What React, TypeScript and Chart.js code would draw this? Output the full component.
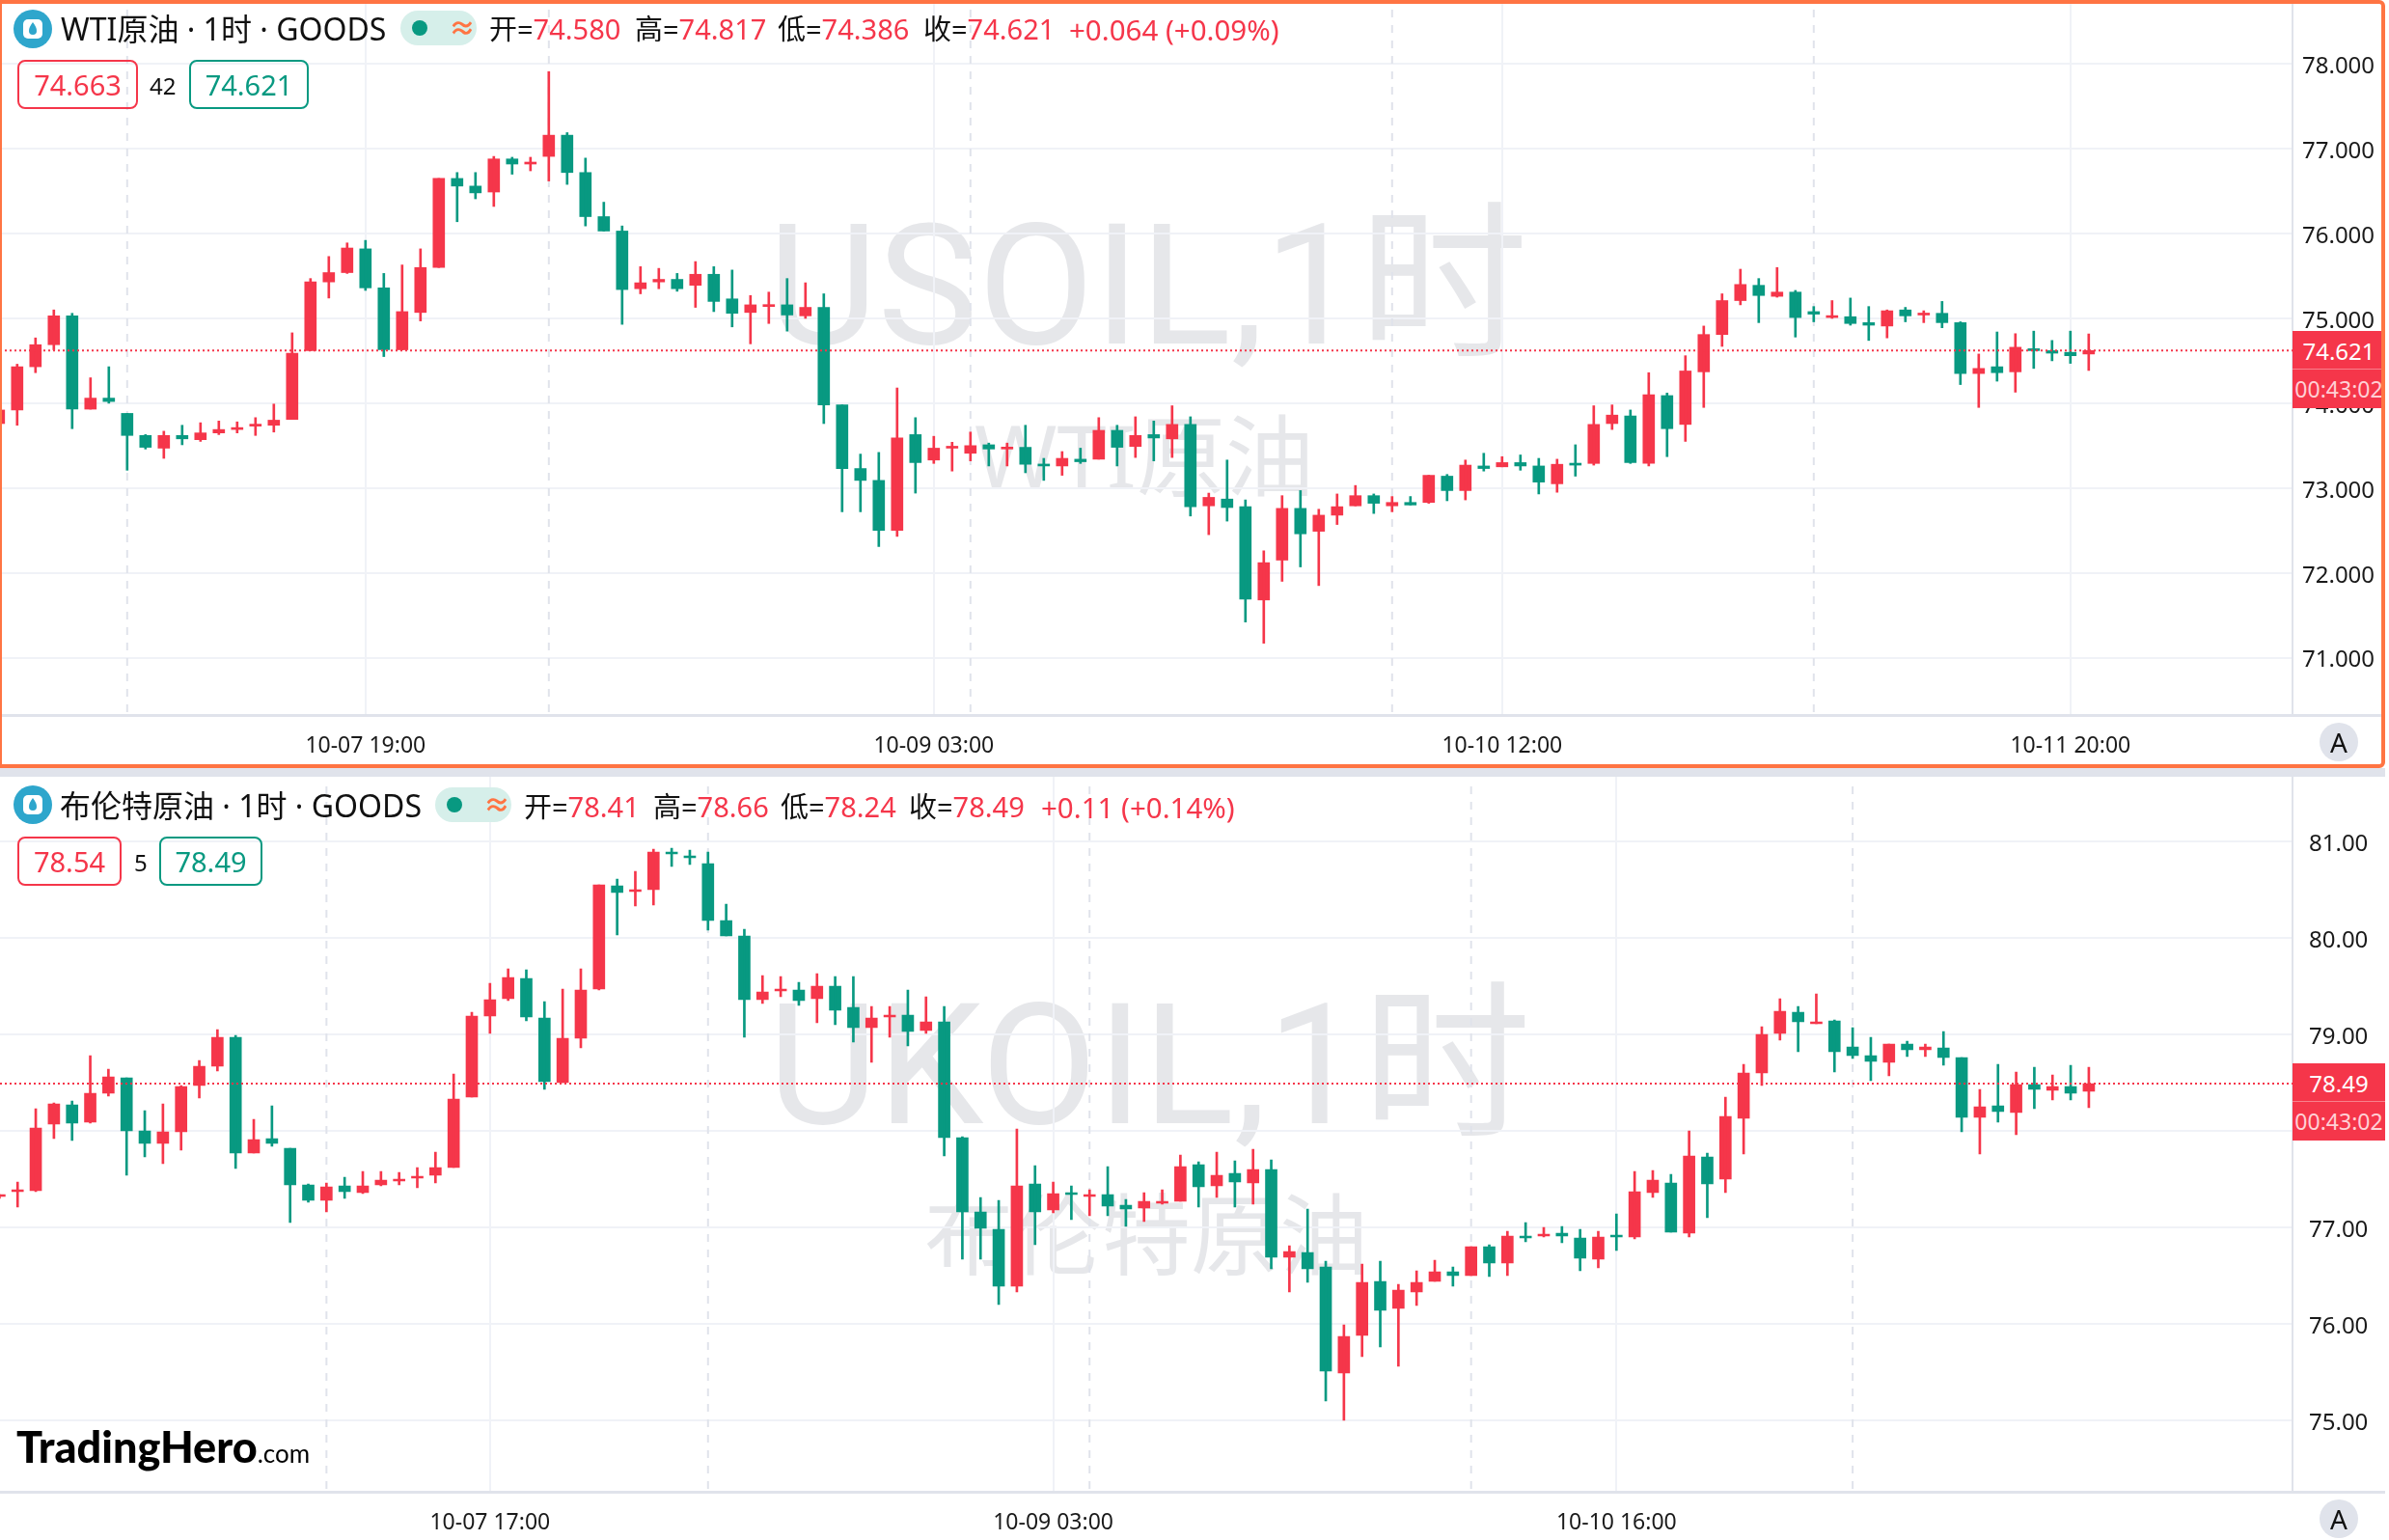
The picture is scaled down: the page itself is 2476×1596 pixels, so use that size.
import React, { useEffect, useRef } from 'react';
import { Chart, registerables } from 'chart.js';

Chart.register(...registerables);

const RED = '#F5364A';
const GREEN = '#089981';
const FONT = '"Noto Sans", "Noto Sans CJK SC", sans-serif';

// WTI, 1h candles
const wtiOpen = [73.76,73.92,74.43,74.69,75.03,73.93,74.06,73.88,73.62,73.47,73.62,73.57,73.65,73.69,73.73,73.74,73.81,74.62,75.43,75.54,75.82,75.36,74.63,75.07,75.60,76.65,76.56,76.49,76.88,76.82,76.91,77.16,76.72,76.20,76.03,75.35,75.43,75.46,75.39,75.52,75.23,75.07,75.14,75.16,75.03,75.13,73.98,73.23,73.09,72.50,73.63,73.33,73.47,73.41,73.51,73.46,73.48,73.28,73.26,73.34,73.34,73.68,73.49,73.63,73.58,73.75,72.79,72.87,72.78,71.68,72.15,72.76,72.49,72.68,72.79,72.91,72.79,72.83,72.83,73.14,72.97,73.26,73.25,73.30,73.26,73.05,73.29,73.29,73.76,73.85,73.29,74.09,73.75,74.37,74.81,75.21,75.39,75.26,75.31,75.08,75.01,75.02,74.95,74.91,75.10,75.04,75.06,74.95,74.35,74.43,74.37,74.64,74.62,74.60,74.58];
const wtiHigh = [73.92,74.46,74.77,75.10,75.06,74.30,74.43,73.88,73.63,73.67,73.74,73.77,73.79,73.78,73.83,73.99,74.83,75.47,75.73,75.89,75.92,75.53,75.63,75.82,76.65,76.72,76.72,76.91,76.90,76.90,77.91,77.19,76.89,76.37,76.09,75.61,75.59,75.53,75.67,75.61,75.57,75.27,75.31,75.47,75.42,75.29,73.98,73.40,73.42,74.18,73.83,73.61,73.54,73.66,73.53,73.53,73.74,73.35,73.43,73.47,73.83,73.74,73.84,73.79,73.97,73.84,72.94,73.33,72.86,72.26,72.91,72.97,72.75,72.93,73.03,72.93,72.90,72.90,73.15,73.16,73.33,73.41,73.37,73.39,73.35,73.34,73.51,73.97,73.98,73.92,74.36,74.12,74.56,74.91,75.29,75.58,75.47,75.60,75.33,75.14,75.21,75.24,75.14,75.10,75.13,75.09,75.20,74.96,74.58,74.84,74.82,74.85,74.74,74.85,74.817];
const wtiLow = [73.72,73.74,74.36,74.63,73.70,73.93,74.00,73.21,73.46,73.35,73.51,73.55,73.63,73.65,73.62,73.66,73.81,74.62,75.24,75.53,75.33,74.55,74.63,74.97,75.60,76.14,76.41,76.32,76.70,76.74,76.62,76.58,76.09,76.03,74.93,75.29,75.35,75.32,75.13,75.08,74.90,74.70,74.94,74.85,75.00,73.76,72.72,72.72,72.31,72.43,72.94,73.29,73.20,73.32,73.26,73.26,73.18,73.09,73.15,73.29,73.34,73.26,73.36,73.32,73.36,72.67,72.45,72.61,71.42,71.17,71.90,72.07,71.85,72.57,72.79,72.70,72.72,72.80,72.82,72.85,72.86,73.20,73.25,73.21,72.93,72.95,73.14,73.27,73.69,73.29,73.26,73.37,73.55,73.95,74.67,75.16,74.95,75.25,74.78,74.96,75.00,74.92,74.74,74.77,74.96,74.95,74.89,74.22,73.95,74.26,74.13,74.41,74.50,74.47,74.386];
const wtiClose = [73.92,74.43,74.69,75.03,73.93,74.06,74.02,73.62,73.48,73.62,73.58,73.65,73.69,73.70,73.74,73.80,74.59,75.43,75.54,75.83,75.36,74.63,75.08,75.60,76.65,76.56,76.48,76.88,76.82,76.83,77.16,76.72,76.20,76.03,75.34,75.42,75.46,75.35,75.52,75.20,75.06,75.16,75.16,75.04,75.13,73.98,73.23,73.09,72.50,73.59,73.30,73.47,73.48,73.50,73.46,73.48,73.28,73.26,73.35,73.31,73.68,73.48,73.62,73.59,73.75,72.78,72.89,72.77,71.69,72.12,72.76,72.46,72.68,72.78,72.91,72.82,72.83,72.80,73.15,72.97,73.27,73.23,73.30,73.26,73.07,73.28,73.27,73.75,73.86,73.30,74.10,73.70,74.38,74.81,75.21,75.40,75.27,75.31,75.01,75.05,75.03,74.94,74.92,75.09,75.03,75.06,74.95,74.35,74.41,74.36,74.66,74.62,74.59,74.56,74.621];
const wtiPriceTicks = [71, 72, 73, 74, 75, 76, 77, 78];
const wtiTimeIdx = [20, 51, 82, 113];
const wtiTimeLabels = ['10-07 19:00', '10-09 03:00', '10-10 12:00', '10-11 20:00'];
const wtiSessionIdx = [7, 30, 53, 76, 99];

// Brent, 1h candles
const brentOpen = [77.32,77.37,77.38,78.07,78.27,78.09,78.39,78.55,78.00,77.87,77.99,78.47,78.67,78.97,77.77,77.92,77.82,77.44,77.28,77.43,77.36,77.44,77.48,77.51,77.54,77.62,78.35,79.19,79.37,79.58,79.17,78.50,78.96,79.47,80.54,80.48,80.50,80.89,80.85,80.77,80.18,80.02,79.36,79.45,79.46,79.37,79.50,79.28,79.07,79.18,79.20,79.04,79.13,77.93,77.16,76.98,76.39,77.45,77.18,77.35,77.32,77.34,77.23,77.20,77.25,77.27,77.65,77.43,77.56,77.46,77.60,76.69,76.74,76.59,75.49,75.88,76.44,76.16,76.33,76.44,76.54,76.50,76.80,76.63,76.91,76.91,76.94,76.89,76.67,76.91,76.90,77.36,77.46,76.94,77.73,77.50,78.13,78.60,79.01,79.23,79.11,79.14,78.87,78.78,78.71,78.90,78.84,78.86,78.76,78.14,78.26,78.19,78.48,78.42,78.46,78.41];
const brentHigh = [77.34,77.47,78.23,78.29,78.31,78.78,78.64,78.55,78.21,78.28,78.47,78.73,79.05,78.99,78.12,78.26,77.82,77.45,77.46,77.52,77.58,77.58,77.57,77.62,77.78,78.59,79.23,79.53,79.68,79.67,79.34,79.47,79.68,80.55,80.61,80.69,80.92,80.93,80.91,80.89,80.35,80.09,79.61,79.60,79.54,79.63,79.60,79.60,79.29,79.29,79.46,79.39,79.29,77.94,77.31,77.28,78.02,77.64,77.47,77.43,77.39,77.63,77.29,77.36,77.39,77.75,77.68,77.78,77.69,77.81,77.70,76.81,77.19,76.65,75.99,76.62,76.65,76.41,76.55,76.66,76.59,76.80,76.82,76.96,77.05,77.00,77.01,76.98,76.96,77.14,77.58,77.59,77.55,78.00,77.77,78.35,78.69,79.08,79.37,79.29,79.42,79.15,79.07,78.97,78.90,78.93,78.90,79.03,78.76,78.43,78.69,78.61,78.66,78.58,78.68,78.66];
const brentLow = [77.30,77.21,77.37,77.92,77.90,78.08,78.36,77.54,77.73,77.66,77.80,78.34,78.62,77.61,77.77,77.84,77.05,77.26,77.16,77.30,77.35,77.43,77.44,77.41,77.46,77.62,78.35,79.01,79.35,79.14,78.43,78.50,78.86,79.46,80.03,80.33,80.34,80.74,80.76,80.08,80.02,78.97,79.32,79.39,79.30,79.12,79.10,78.92,78.71,78.97,78.88,79.01,77.74,76.67,76.67,76.20,76.33,76.82,77.15,77.08,77.12,77.12,77.01,77.06,77.24,77.27,77.21,77.31,77.21,77.24,76.57,76.33,76.43,75.20,75.00,75.66,75.76,75.56,76.19,76.44,76.39,76.50,76.49,76.50,76.85,76.90,76.84,76.55,76.58,76.76,76.88,77.31,76.95,76.90,77.10,77.36,77.76,78.47,78.94,78.82,79.11,78.61,78.75,78.52,78.57,78.77,78.77,78.68,77.99,77.76,78.09,77.96,78.23,78.32,78.32,78.24];
const brentClose = [77.34,77.38,78.03,78.28,78.08,78.39,78.56,78.00,77.87,77.99,78.46,78.67,78.97,77.77,77.91,77.87,77.44,77.28,77.42,77.37,77.43,77.49,77.50,77.53,77.62,78.33,79.19,79.36,79.59,79.18,78.51,78.96,79.46,80.55,80.47,80.49,80.89,80.87,80.83,80.18,80.02,79.36,79.44,79.46,79.35,79.50,79.25,79.07,79.17,79.20,79.03,79.13,77.93,77.16,76.99,76.39,77.43,77.16,77.35,77.34,77.34,77.22,77.19,77.27,77.27,77.63,77.42,77.54,77.47,77.60,76.69,76.75,76.57,75.51,75.87,76.43,76.14,76.35,76.43,76.54,76.50,76.80,76.63,76.91,76.89,76.93,76.91,76.68,76.90,76.90,77.37,77.49,76.95,77.74,77.45,78.15,78.60,79.00,79.24,79.13,79.13,78.82,78.78,78.72,78.90,78.84,78.87,78.76,78.14,78.25,78.20,78.48,78.43,78.46,78.39,78.49];
const brentPriceTicks = [75, 76, 77, 78, 79, 80, 81];
const brentTimeIdx = [27, 58, 89];
const brentTimeLabels = ['10-07 17:00', '10-09 03:00', '10-10 16:00'];
const brentSessionIdx = [18, 39, 60, 81, 102];

function CandleChart(props: any) {
  const ref = useRef<HTMLCanvasElement>(null);
  useEffect(() => {
    if (!ref.current) return;
    const { open, high, low, close, priceTicks, timeIdx, timeLabels, sessionIdx, lastPrice, digits, xRange, yRange, axisH, yPad, xPad } = props;
    const colors = open.map((o: number, i: number) => (close[i] >= o ? RED : GREEN));
    const linesPlugin = {
      id: 'paneLines',
      beforeDatasetsDraw(c: any) {
        const { ctx, chartArea, scales } = c;
        ctx.save();
        ctx.strokeStyle = '#E0E3EB';
        ctx.lineWidth = 2;
        ctx.setLineDash([8, 8]);
        for (const i of sessionIdx) {
          const x = scales.x.getPixelForValue(i);
          ctx.beginPath();
          ctx.moveTo(x, chartArea.top + 10);
          ctx.lineTo(x, chartArea.bottom);
          ctx.stroke();
        }
        ctx.restore();
      },
      afterDatasetsDraw(c: any) {
        const { ctx, chartArea, scales } = c;
        const y = scales.y.getPixelForValue(lastPrice);
        ctx.save();
        ctx.strokeStyle = RED;
        ctx.lineWidth = 2;
        ctx.setLineDash([2, 3]);
        ctx.beginPath();
        ctx.moveTo(chartArea.left, y);
        ctx.lineTo(chartArea.right, y);
        ctx.stroke();
        ctx.restore();
      },
    };
    const chart = new Chart(ref.current, {
      type: 'bar',
      data: {
        datasets: [
          {
            data: open.map((_: number, i: number) => ({ x: i, y: [low[i], high[i]] })),
            backgroundColor: colors,
            barThickness: 2,
            grouped: false,
          },
          {
            data: open.map((o: number, i: number) => ({ x: i, y: [o, close[i]] })),
            backgroundColor: colors,
            barThickness: 12,
            minBarLength: 2,
            grouped: false,
          },
        ] as any,
      },
      options: {
        animation: false,
        responsive: false,
        layout: { padding: 0 },
        plugins: { legend: { display: false }, tooltip: { enabled: false } },
        scales: {
          x: {
            type: 'linear',
            offset: false,
            min: xRange[0],
            max: xRange[1],
            afterBuildTicks: (s: any) => { s.ticks = timeIdx.map((value: number) => ({ value })); },
            // no label overhang: the plot has to fill the pane
            afterFit: (s: any) => { s.height = axisH; s.paddingLeft = 0; s.paddingRight = 0; },
            ticks: {
              autoSkip: false,
              maxRotation: 0,
              padding: xPad,
              color: '#1A1A1A',
              font: { family: FONT, size: 23 },
              callback: (v: any) => timeLabels[timeIdx.indexOf(v)],
            },
            grid: { color: '#F0F2F7', lineWidth: 2, drawTicks: false, offset: false },
            border: { color: '#E0E3EB', width: 3 },
          },
          y: {
            position: 'right',
            min: yRange[0],
            max: yRange[1],
            afterBuildTicks: (s: any) => { s.ticks = priceTicks.map((value: number) => ({ value })); },
            afterFit: (s: any) => { s.width = 96; s.paddingTop = 0; s.paddingBottom = 0; },
            ticks: {
              crossAlign: 'center',
              padding: yPad,
              labelOffset: 3,
              color: '#1A1A1A',
              font: { family: FONT, size: 24 },
              callback: (v: any) => Number(v).toFixed(digits),
            },
            grid: { color: '#F0F2F7', lineWidth: 2, drawTicks: false },
            border: { color: '#E0E3EB', width: 2 },
          },
        },
      } as any,
      plugins: [linesPlugin],
    });
    return () => chart.destroy();
  }, []);
  return (
    <canvas
      ref={ref}
      width={2472}
      height={props.height}
      style={{ position: 'absolute', left: 0, top: props.top, width: 2472, height: props.height, display: 'block' }}
    />
  );
}

function Txt({ x, y, size, color, children, style }: any) {
  // y is the vertical centre of the line
  return (
    <span style={{ position: 'absolute', left: x, top: y - size, height: size * 2, lineHeight: `${size * 2}px`, fontSize: size, color: color || '#111', whiteSpace: 'nowrap', ...style }}>
      {children}
    </span>
  );
}

function Icon({ y }: any) {
  return (
    <svg width={40} height={40} style={{ position: 'absolute', left: 14, top: y - 20 }}>
      <circle cx={20} cy={20} r={20} fill="#2EA6CC" />
      <rect x={10} y={10} width={20} height={20} rx={5} fill="#fff" />
      <path d="M20 13 C17 17 16 19 16 22 A4 4 0 0 0 24 22 C24 19 23 17 20 13 Z" fill="#2EA6CC" />
    </svg>
  );
}

function Pill({ x, y }: any) {
  return (
    <div style={{ position: 'absolute', left: x, top: y - 18, width: 79, height: 36, borderRadius: 18, background: '#D6EFEA' }}>
      <div style={{ position: 'absolute', left: 12, top: 10, width: 16, height: 16, borderRadius: 8, background: GREEN }} />
      <span style={{ position: 'absolute', left: 50, top: 0, lineHeight: '36px', fontSize: 28, fontWeight: 700, color: '#FF7443' }}>≈</span>
    </div>
  );
}

function Badge({ x, y, w, color, children }: any) {
  return (
    <div style={{ position: 'absolute', left: x, top: y, width: w, height: 51, boxSizing: 'border-box', border: `2px solid ${color}`, borderRadius: 8, color, fontSize: 29, lineHeight: '48px', textAlign: 'center' }}>
      {children}
    </div>
  );
}

function PriceBox({ y, price }: any) {
  return (
    <div style={{ position: 'absolute', left: 2376, top: y, width: 96, height: 80, background: RED, textAlign: 'center' }}>
      <div style={{ height: 40, lineHeight: '42px', fontSize: 24, color: '#fff', borderBottom: '1px solid #F8808C', boxSizing: 'border-box' }}>{price}</div>
      <div style={{ height: 40, lineHeight: '40px', fontSize: 23, color: '#FFD0D5' }}>00:43:02</div>
    </div>
  );
}

function Round({ y }: any) {
  return (
    <div style={{ position: 'absolute', left: 2404, top: y - 20, width: 40, height: 40, borderRadius: 20, background: '#E0E3EB', textAlign: 'center', lineHeight: '40px', fontSize: 28, color: '#111' }}>A</div>
  );
}

const Eq = ({ k, v }: any) => (
  <>
    {k}=<span style={{ color: RED }}>{v}</span>
  </>
);

const WM = 'Roboto, "Noto Sans CJK SC", sans-serif';

export default function App() {
  return (
    <div style={{ position: 'absolute', left: 0, top: 0, width: 2476, height: 1596, overflow: 'hidden', background: '#fff', fontFamily: FONT }}>
      {/* watermarks sit under the transparent canvases */}
      <Txt x={796} y={297} size={175} color="#E6E7EA" style={{ fontFamily: WM }}>USOIL,1时</Txt>
      <Txt x={1010} y={472} size={92} color="#E6E7EA">WTI原油</Txt>
      <Txt x={796} y={1105} size={175} color="#E6E7EA" style={{ fontFamily: WM }}>UKOIL,1时</Txt>
      <Txt x={958} y={1279} size={92} color="#E6E7EA">布伦特原油</Txt>

      <div style={{ position: 'absolute', left: 0, top: 796, width: 2472, height: 9, background: '#E0E3EB' }} />
      <CandleChart
        top={0} height={796} axisH={55} digits={3} lastPrice={74.621} yPad={10} xPad={19}
        open={wtiOpen} high={wtiHigh} low={wtiLow} close={wtiClose}
        priceTicks={wtiPriceTicks} timeIdx={wtiTimeIdx} timeLabels={wtiTimeLabels} sessionIdx={wtiSessionIdx}
        xRange={[0.063, 125.116]} yRange={[70.324, 78.754]}
      />
      <CandleChart
        top={805} height={791} axisH={49.3} digits={2} lastPrice={78.49} yPad={17} xPad={18}
        open={brentOpen} high={brentHigh} low={brentLow} close={brentClose}
        priceTicks={brentPriceTicks} timeIdx={brentTimeIdx} timeLabels={brentTimeLabels} sessionIdx={brentSessionIdx}
        xRange={[0.032, 126.21]} yRange={[74.253, 81.67]}
      />
      <div style={{ position: 'absolute', left: 2376, top: 740, width: 96, height: 3, background: '#E0E3EB' }} />
      <div style={{ position: 'absolute', left: 2376, top: 1545, width: 96, height: 3, background: '#E0E3EB' }} />

      {/* top pane header */}
      <Icon y={30} />
      <Txt x={63} y={30} size={32}>WTI原油 · 1时 · GOODS</Txt>
      <Pill x={415} y={29} />
      <Txt x={507} y={30} size={29}><Eq k="开" v="74.580" /></Txt>
      <Txt x={658} y={30} size={29}><Eq k="高" v="74.817" /></Txt>
      <Txt x={806} y={30} size={29}><Eq k="低" v="74.386" /></Txt>
      <Txt x={957} y={30} size={29}><Eq k="收" v="74.621" /></Txt>
      <Txt x={1108} y={30} size={29.5} color={RED}>+0.064 (+0.09%)</Txt>
      <Badge x={18} y={62} w={125} color={RED}>74.663</Badge>
      <Txt x={155} y={89} size={24}>42</Txt>
      <Badge x={196} y={62} w={124} color={GREEN}>74.621</Badge>
      <PriceBox y={343} price="74.621" />
      <Round y={769} />

      {/* bottom pane header */}
      <Icon y={834} />
      <Txt x={62} y={835} size={32}>布伦特原油 · 1时 · GOODS</Txt>
      <Pill x={451} y={834} />
      <Txt x={543} y={836} size={29}><Eq k="开" v="78.41" /></Txt>
      <Txt x={677} y={836} size={29}><Eq k="高" v="78.66" /></Txt>
      <Txt x={809} y={836} size={29}><Eq k="低" v="78.24" /></Txt>
      <Txt x={942} y={836} size={29}><Eq k="收" v="78.49" /></Txt>
      <Txt x={1079} y={836} size={29.5} color={RED}>+0.11 (+0.14%)</Txt>
      <Badge x={18} y={867} w={108} color={RED}>78.54</Badge>
      <Txt x={139} y={894} size={24}>5</Txt>
      <Badge x={165} y={867} w={107} color={GREEN}>78.49</Badge>
      <PriceBox y={1102} price="78.49" />
      <Round y={1574} />

      <Txt x={17} y={1499} size={45} color="#000" style={{ fontFamily: 'Lato, "Noto Sans"', fontWeight: 900 }}>
        TradingHero<span style={{ fontSize: 26, fontWeight: 400 }}>.com</span>
      </Txt>

      <div style={{ position: 'absolute', left: 0, top: 0, width: 2472, height: 796, boxSizing: 'border-box', borderStyle: 'solid', borderColor: '#FF7443', borderWidth: '4px 4px 4px 2px', borderTopRightRadius: 6, borderBottomRightRadius: 6, pointerEvents: 'none' }} />
    </div>
  );
}
